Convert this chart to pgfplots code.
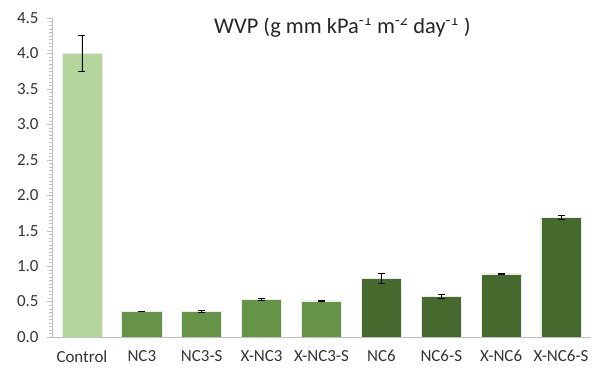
\documentclass[border=0pt]{standalone}
\usepackage{fontspec}
\setmainfont{Carlito}
\usepackage{pgfplots}
\pgfplotsset{compat=1.18}
\definecolor{cCtrl}{HTML}{B4D69D}
\definecolor{cMid}{HTML}{659447}
\definecolor{cDark}{HTML}{466A2D}
\definecolor{axgrey}{HTML}{BFBFBF}
\begin{document}
\begin{tikzpicture}
\useasboundingbox (-52bp,-32bp) rectangle (548bp,337bp);
\begin{axis}[
  scale only axis,
  width=539bp, height=319bp,
  xmin=-0.5, xmax=8.5,
  ymin=0, ymax=4.5,
  axis x line=bottom, axis y line=left,
  axis line style={axgrey, -},
  xtick={0,...,8},
  xticklabels={Control,NC3,NC3-S,X-NC3,X-NC3-S,NC6,NC6-S,X-NC6,X-NC6-S},
  major x tick style={draw=none},
  ytick={0,0.5,...,4.5},
  minor y tick num=9,
  tick align=outside,
  major tick length=5bp,
  minor tick length=3bp,
  y tick style={axgrey},
  minor y tick style={axgrey},
  tick label style={font=\fontsize{17}{19}\selectfont, text=black!80},
  /pgf/number format/fixed,
  /pgf/number format/fixed zerofill,
  /pgf/number format/precision=1,
  /pgf/number format/assume math mode=true,
  x tick label style={yshift=-5bp},
  y tick label style={xshift=-5bp},
  bar width=0.67,
  ybar, bar shift=0pt,
  error bars/error bar style={black, line width=0.8pt},
  error bars/error mark options={rotate=90, black, mark size=3.5bp, line width=0.8pt},
]
\addplot[fill=cCtrl, draw=white!85!gray, line width=0.6pt,
  error bars/.cd, y dir=both, y explicit]
  coordinates {(0,4.00) +- (0,0.26)};
\addplot[fill=cMid, draw=white!85!gray, line width=0.6pt,
  error bars/.cd, y dir=both, y explicit]
  coordinates {(1,0.36) +- (0,0.005) (2,0.36) +- (0,0.02) (3,0.53) +- (0,0.01) (4,0.51) +- (0,0.005)};
\addplot[fill=cDark, draw=white!85!gray, line width=0.6pt,
  error bars/.cd, y dir=both, y explicit]
  coordinates {(5,0.83) +- (0,0.07) (6,0.57) +- (0,0.03) (7,0.89) +- (0,0.005) (8,1.69) +- (0,0.025)};
\node[font=\fontsize{22.5}{26}\selectfont, text=black!85] at (axis cs:4.35,4.38)
  {WVP (g mm kPa\textsuperscript{-1} m\textsuperscript{-2} day\textsuperscript{-1} )};
\end{axis}
\end{tikzpicture}
\end{document}
